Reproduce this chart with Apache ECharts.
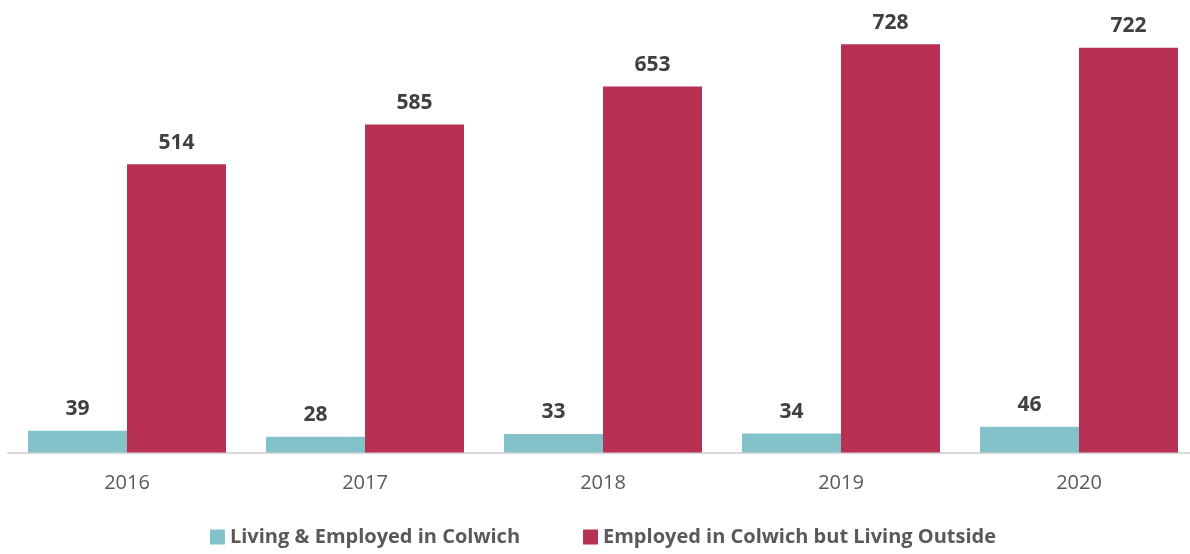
<!DOCTYPE html>
<html><head><meta charset="utf-8">
<script src="https://cdn.jsdelivr.net/npm/echarts@6/dist/echarts.min.js"></script>
<style>html,body{margin:0;padding:0;background:#fff;overflow:hidden}#c{width:1206px;height:554px}</style>
</head><body><div id="c"></div>
<script>
const categories = ['2016','2017','2018','2019','2020'];
const livingEmployed = [39, 28, 33, 34, 46];
const employedOutside = [514, 585, 653, 728, 722];
const seriesNames = ['Living & Employed in Colwich', 'Employed in Colwich but Living Outside'];

const chart = echarts.init(document.getElementById('c'));
const labelStyle = {show:true, position:'top', distance:11, fontFamily:'Open Sans', fontWeight:'bold', fontSize:21, color:'#404040'};
chart.setOption({
  animation:false,
  grid:{left:8, right:8, top:4, height:448.5, containLabel:false},
  legend:{bottom:2, left:'center', itemWidth:15, itemHeight:15, itemGap:63, icon:'rect',
    textStyle:{fontFamily:'Open Sans', fontWeight:'bold', fontSize:20, color:'#595959'},
    data:seriesNames},
  xAxis:{type:'category', data:categories,
    axisLine:{lineStyle:{color:'#d9d9d9', width:2}}, axisTick:{show:false},
    axisLabel:{margin:21, fontFamily:'Open Sans', fontSize:20, color:'#595959'}},
  yAxis:{type:'value', min:0, max:800, show:false, splitLine:{show:false}},
  series:[
    {name:seriesNames[0], type:'bar', data:livingEmployed, barWidth:99, barGap:'0%', itemStyle:{color:'#84c2c9'}, label:labelStyle},
    {name:seriesNames[1], type:'bar', data:employedOutside, barWidth:99, itemStyle:{color:'#b83155'}, label:labelStyle}
  ]
});
</script></body></html>
